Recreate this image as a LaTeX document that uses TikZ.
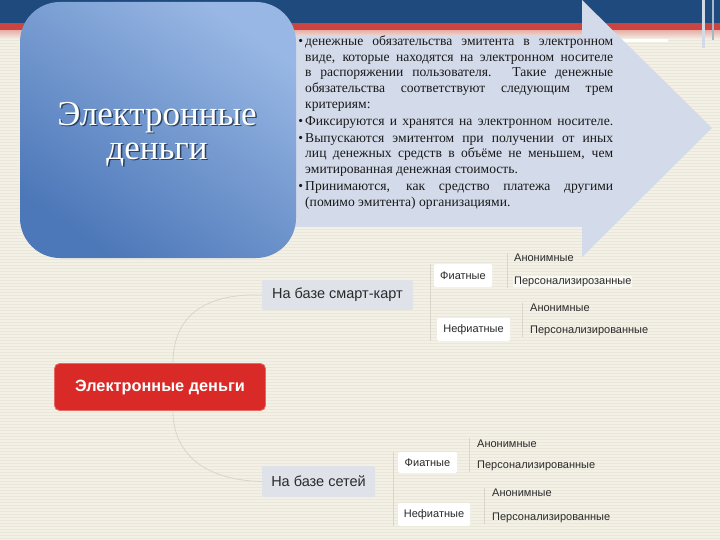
\documentclass[tikz,border=0pt]{standalone}
\usepackage{fontspec}
\setmainfont{Liberation Serif}
\newfontfamily\sansf{Liberation Sans}
\usetikzlibrary{calc}
\definecolor{bg}{HTML}{F3F0E6}
\definecolor{stripe}{HTML}{EAE6DA}
\definecolor{bandblue}{HTML}{1F4A7E}
\definecolor{bandred}{HTML}{CB4440}
\definecolor{bandpink}{HTML}{E8B4AE}
\definecolor{arrowc}{HTML}{D3DAEA}
\definecolor{bluelight}{HTML}{98B7E4}
\definecolor{bluemid}{HTML}{6690CF}
\definecolor{bluedark}{HTML}{4C77B8}
\definecolor{redfill}{HTML}{D92A27}
\definecolor{greyfill}{HTML}{DFE2E9}
\definecolor{faint}{HTML}{DAD5C8}
\definecolor{txt}{HTML}{2A2A2A}
\tikzset{
  redbox/.style={draw=redfill!70!white, line width=0.8pt, fill=redfill, rounded corners=5pt, text=white,
    font=\sansf\bfseries\fontsize{16.3}{19}\selectfont, minimum width=211pt, minimum height=47pt, inner sep=0pt},
  greybox/.style={fill=greyfill, rounded corners=2pt, text=txt,
    font=\sansf\fontsize{14.5}{16}\selectfont, minimum height=30pt, inner sep=0pt},
  whitebox/.style={fill=white, rounded corners=1.5pt, text=txt,
    font=\sansf\fontsize{11}{13}\selectfont, minimum height=23pt, inner sep=0pt},
  leaf/.style={anchor=west, text=txt, font=\sansf\fontsize{11}{13}\selectfont, inner sep=1pt},
  faintline/.style={draw=faint, line width=0.8pt},
}
\begin{document}
\begin{tikzpicture}[x=1pt,y=-1pt]
\useasboundingbox (0,0) rectangle (720,540);
% background
\fill[bg] (0,0) rectangle (720,540);
\foreach \yy in {1.5,4.5,...,540} \draw[stripe, line width=0.7pt] (0,\yy) -- (720,\yy);
% top band
\fill[bandblue] (0,0) rectangle (720,23);
\fill[bandred] (0,23) rectangle (720,31);
\shade[top color=bandpink, bottom color=bg] (0,31) rectangle (720,39);
\fill[white] (620,39) rectangle (668,42);
\fill[white!80!bandblue] (702,0) rectangle (705,48);
\fill[white!60!bandblue] (712,0) rectangle (714,40);
% arrow
\fill[arrowc] (290,36) -- (582,36) -- (582,0) -- (712,128) -- (582,257) -- (582,227) -- (290,227) -- cycle;
% blue rounded box
\shade[rounded corners=40pt, bottom color=bluedark, middle color=bluemid, top color=bluelight, shading angle=-35]
  (20,2) rectangle (296,258);
\node[text=black!60!bandblue, opacity=0.7, font=\fontsize{35}{34}\selectfont, align=center] at (158.5,135.5) {Электронные\\деньги};
\node[text=white, font=\fontsize{35}{34}\selectfont, align=center] (title) at (157,134) {Электронные\\деньги};
% arrow text
\node[anchor=north west, text width=308pt, align=justify, inner sep=0pt, text=black!90,
  font=\fontsize{13.6}{15.7}\selectfont] (desc) at (305,35.5) {%
\leavevmode\llap{\textbullet\hspace{2pt}}денежные обязательства эмитента в электронном\linebreak
виде, которые находятся на электронном носителе\linebreak
в распоряжении пользователя. Такие денежные\linebreak
обязательства соответствуют следующим трем\linebreak
критериям:\par\vspace{1.3pt}
{\parfillskip=0pt\leavevmode\llap{\textbullet\hspace{2pt}}Фиксируются и хранятся на электронном носителе.\par}\vspace{1.3pt}
\leavevmode\llap{\textbullet\hspace{2pt}}Выпускаются эмитентом при получении от иных\linebreak
лиц денежных средств в объёме не меньшем, чем\linebreak
эмитированная денежная стоимость.\par\vspace{1.3pt}
\leavevmode\llap{\textbullet\hspace{2pt}}Принимаются, как средство платежа другими\linebreak
(помимо эмитента) организациями.\par};
% mind map nodes
\node[redbox] (em) at (160,387) {Электронные деньги};
\node[greybox, minimum width=151pt] (sc) at (337.5,295) {На базе смарт-карт};
\node[greybox, minimum width=113pt, minimum height=31pt] (net) at (318.5,481.5) {На базе сетей};
\node[whitebox, minimum width=58pt] (f1) at (463,275.5) {Фиатные};
\node[whitebox, minimum width=73pt] (nf1) at (473.5,329.5) {Нефиатные};
\node[whitebox, minimum width=59pt, minimum height=21pt] (f2) at (427.5,462.5) {Фиатные};
\node[whitebox, minimum width=72pt] (nf2) at (434,514.5) {Нефиатные};
\node[leaf] (a1) at (513,258) {Анонимные};
\node[leaf, fill=white!50!bg] (p1) at (513,281.5) {Персонализирозанные};
\node[leaf] (a2) at (529,308) {Анонимные};
\node[leaf] (p2) at (529,331) {Персонализированные};
\node[leaf] (a3) at (476,443.5) {Анонимные};
\node[leaf] (p3) at (476,466) {Персонализированные};
\node[leaf] (a4) at (491,493) {Анонимные};
\node[leaf] (p4) at (491,517.5) {Персонализированные};
% faint connectors
\draw[faintline] ([xshift=13pt]em.north) .. controls (173,320) and (200,293) .. (sc.west);
\draw[faintline] ([xshift=13pt]em.south) .. controls (173,450) and (200,480) .. (net.west);
\draw[faintline] ([xshift=17pt]sc.east |- f1.north) -- ([xshift=17pt]sc.east |- nf1.south);
\draw[faintline] ([xshift=18pt]net.east |- f2.north) -- ([xshift=18pt]net.east |- nf2.south);
\draw[faintline] ([xshift=-6pt]a1.west |- a1.north) -- ([xshift=-6pt]a1.west |- p1.south);
\draw[faintline] ([xshift=-7pt]a2.west |- a2.north) -- ([xshift=-7pt]a2.west |- p2.south);
\draw[faintline] ([xshift=-7pt]a3.west |- a3.north) -- ([xshift=-7pt]a3.west |- p3.south);
\draw[faintline] ([xshift=-7pt]a4.west |- a4.north) -- ([xshift=-7pt]a4.west |- p4.south);
\end{tikzpicture}
\end{document}
